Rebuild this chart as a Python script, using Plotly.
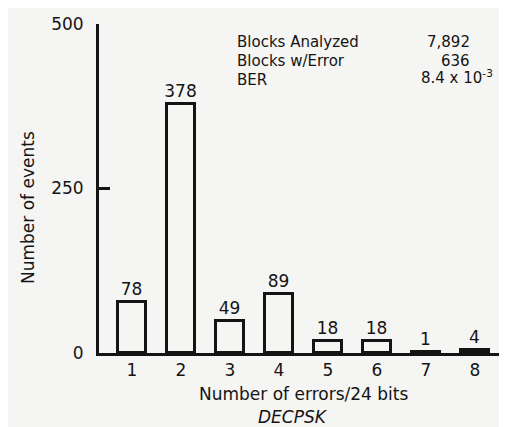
import plotly.graph_objects as go

errors = [1, 2, 3, 4, 5, 6, 7, 8]
events = [78, 378, 49, 89, 18, 18, 1, 4]
y_ticks = [0, 250, 500]
stats_labels = ["Blocks Analyzed", "Blocks w/Error", "BER"]
stats_values = ["7,892", "636", "8.4 x 10<sup>-3</sup>"]

FONT = "DejaVu Sans"
INK = "#141414"
BG = "#f5f5f3"

fig = go.Figure()
fig.add_trace(go.Bar(
    x=errors, y=events, width=0.57,
    marker=dict(color=BG, line=dict(color=INK, width=3)),
    text=[str(v) for v in events], textposition="outside",
    constraintext="none",
    textfont=dict(family=FONT, size=17, color=INK),
    cliponaxis=False,
))

fig.update_layout(
    width=507, height=427,
    margin=dict(l=91, r=0, t=16, b=82),
    paper_bgcolor=BG, plot_bgcolor=BG,
    showlegend=False,
    font=dict(family=FONT, size=17, color=INK),
    uniformtext=dict(minsize=17, mode="show"),
    xaxis=dict(range=[0.33, 8.82], tickvals=errors, ticktext=[str(e) for e in errors],
               showgrid=False, zeroline=False, showline=True, linecolor=INK, linewidth=3,
               ticks="", tickfont=dict(size=17, color=INK)),
    yaxis=dict(range=[0, 500], tickvals=y_ticks, showgrid=False, zeroline=False,
               showline=True, linecolor=INK, linewidth=3, ticks="inside", ticklen=11,
               tickwidth=3, tickcolor=INK, tickfont=dict(size=17, color=INK),
               ticklabelstandoff=9),
    bargap=0,
)

def px_x(px):
    return (px - 91) / 416.0

def px_y(py):
    return (345 - py) / 329.0

row_y = [34, 53, 72]
for lab, val, yy, i in zip(stats_labels, stats_values, row_y, range(3)):
    fig.add_annotation(xref="paper", yref="paper", x=px_x(228), y=px_y(yy),
                       text=lab, showarrow=False, xanchor="left", yanchor="middle",
                       borderpad=0, font=dict(size=15, color=INK))
    if i < 2:
        fig.add_annotation(xref="paper", yref="paper", x=px_x(463), y=px_y(yy),
                           text=val, showarrow=False, xanchor="right", yanchor="middle",
                           borderpad=0, font=dict(size=15, color=INK))
    else:
        fig.add_annotation(xref="paper", yref="paper", x=px_x(412), y=px_y(yy - 3),
                           text=val, showarrow=False, xanchor="left", yanchor="middle",
                           borderpad=0, font=dict(size=15, color=INK))

fig.add_annotation(xref="paper", yref="paper", x=px_x(295), y=px_y(386),
                   text="Number of errors/24 bits", showarrow=False,
                   xanchor="center", yanchor="middle", font=dict(size=17, color=INK))
fig.add_annotation(xref="paper", yref="paper", x=px_x(285), y=px_y(409),
                   text="<i>DECPSK</i>", showarrow=False,
                   xanchor="center", yanchor="middle", font=dict(size=17, color=INK))
fig.add_annotation(xref="paper", yref="paper", x=px_x(20), y=px_y(200),
                   text="Number of events", showarrow=False, textangle=-90,
                   xanchor="center", yanchor="middle", font=dict(size=17, color=INK))

fig.write_html("out.html")
